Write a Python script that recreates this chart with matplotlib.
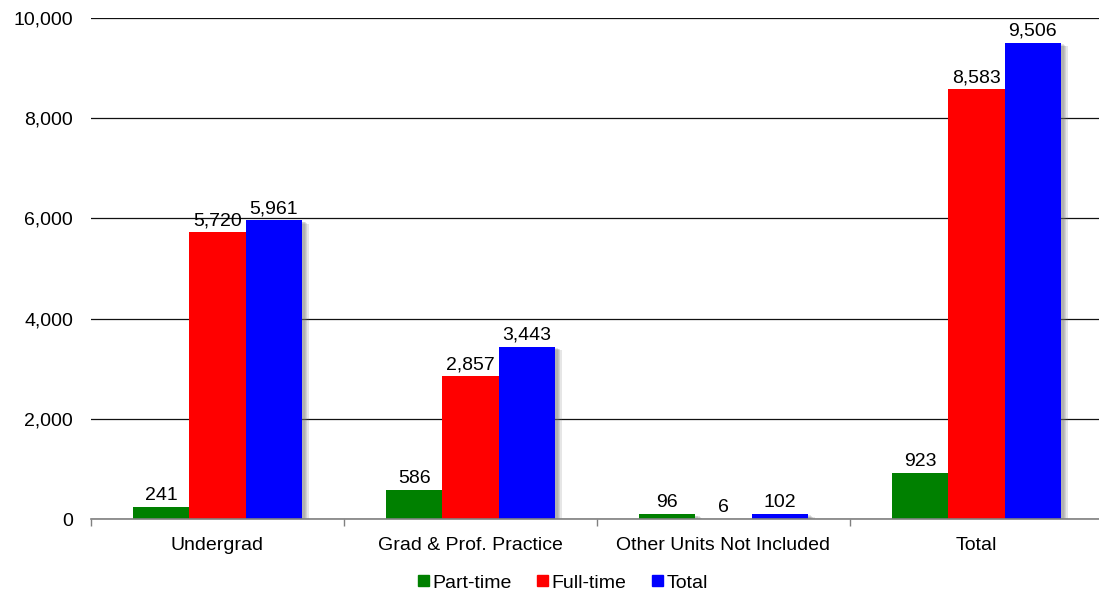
import matplotlib
matplotlib.use('Agg')
import matplotlib.pyplot as plt
import matplotlib.patheffects as pe
from matplotlib.patches import Patch
import numpy as np

categories = ['Undergrad', 'Grad & Prof. Practice', 'Other Units Not Included', 'Total']
series_names = ['Part-time', 'Full-time', 'Total']
part_time = [241, 586, 96, 923]
full_time = [5720, 2857, 6, 8583]
total = [5961, 3443, 102, 9506]
colors = ['#008000', '#FF0000', '#0000FF']

plt.rcParams['font.family'] = ['Liberation Sans', 'DejaVu Sans']

fig = plt.figure(figsize=(10.99, 5.93), dpi=100)
ax = fig.add_axes([91 / 1099, 1 - 519 / 593, 1012 / 1099, 501 / 593])

x = np.arange(len(categories))
w = 1 / 4.5  # gap width 150%

# soft shadow: a few stacked offsets, fading out to the right
shadow = [pe.SimplePatchShadow(offset=(d, -d * 0.5), shadow_rgbFace='#777777', alpha=0.18)
          for d in (5, 4, 3, 2)] + [pe.Normal()]

for i, (vals, name) in enumerate(zip([part_time, full_time, total], series_names)):
    bars = ax.bar(x + (i - 1) * w, vals, width=w, color=colors[i], label=name,
                  zorder=3, path_effects=shadow)
    ax.bar_label(bars, labels=[f'{v:,}' for v in vals], padding=2, fontsize=14, zorder=4)

ax.set_xlim(-0.5, 3.5)
ax.set_ylim(0, 10000)
ax.set_yticks(range(0, 10001, 2000))
ax.set_yticklabels([f'{v:,}' for v in range(0, 10001, 2000)])
ax.yaxis.grid(True, color='#111111', linewidth=0.9, zorder=0)
ax.set_axisbelow(True)

ax.set_xticks(x)
ax.set_xticklabels(categories)
ax.set_xticks(np.arange(-0.5, 4, 1), minor=True)
ax.tick_params(axis='x', which='major', length=0, pad=13, labelsize=14)
ax.tick_params(axis='x', which='minor', length=5, color='#808080', width=1)
ax.tick_params(axis='y', length=0, pad=13, labelsize=14)

for s in ['top', 'right', 'left']:
    ax.spines[s].set_visible(False)
ax.spines['bottom'].set_color('#808080')
ax.spines['bottom'].set_linewidth(1.2)
ax.spines['bottom'].set_zorder(5)

handles = [Patch(color=c) for c in colors]
fig.legend(handles, series_names, loc='center', bbox_to_anchor=(563 / 1099, 1 - 583 / 593),
           ncol=3, frameon=False, fontsize=14, handlelength=0.55, handleheight=0.55,
           handletextpad=0.2, columnspacing=1.3)

fig.savefig('out.png', dpi=100)
